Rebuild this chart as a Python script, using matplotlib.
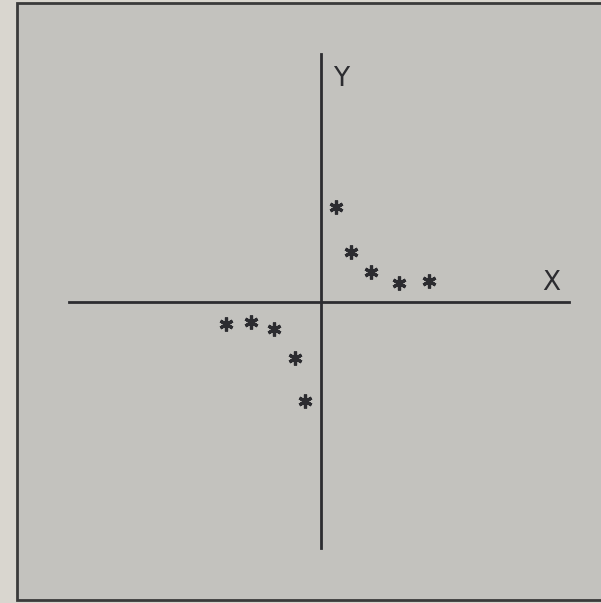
import matplotlib.pyplot as plt
from matplotlib.patches import Rectangle

# points (one unit ~ 25 px)
pos_x = [0.6, 1.2, 2.0, 3.1, 4.3]
pos_y = [3.8, 2.0, 1.2, 0.75, 0.85]
neg_x = [-3.8, -2.8, -1.9, -1.05, -0.65]
neg_y = [-0.9, -0.8, -1.1, -2.25, -3.95]

ink = "#2c2c30"

fig = plt.figure(figsize=(6.01, 6.03), dpi=100)
fig.patch.set_facecolor("#d9d6cf")
ax = fig.add_axes([0, 0, 1, 1])
ax.set_xlim(-12.84, 11.2)
ax.set_ylim(-12.04, 12.08)
ax.axis("off")

# grey panel with its frame (no right edge visible)
ax.add_patch(Rectangle((-12.16, -11.92), 24.0, 23.88,
                       facecolor="#c3c2be", edgecolor="none", zorder=0))
ax.plot([11.4, -12.16, -12.16, 11.4], [11.96, 11.96, -11.92, -11.92],
        color="#3a3a3a", linewidth=2.0, solid_joinstyle="miter", zorder=1)

# coordinate axes
ax.plot([-10.1, 9.9], [0, 0], color=ink, linewidth=2.0, zorder=2)
ax.plot([0, 0], [-9.85, 9.9], color=ink, linewidth=2.0, zorder=2)

ax.text(0.8, 8.9, "Y", fontsize=19, color=ink, ha="center", va="center")
ax.text(9.2, 0.75, "X", fontsize=19, color=ink, ha="center", va="center")

asterisk = (6, 2, 0)
ax.plot(pos_x, pos_y, linestyle="none", marker=asterisk, markersize=10,
        markeredgewidth=2.3, color=ink, zorder=3)
ax.plot(neg_x, neg_y, linestyle="none", marker=asterisk, markersize=10,
        markeredgewidth=2.3, color=ink, zorder=3)

fig.savefig("out.png", dpi=100, facecolor=fig.get_facecolor())
